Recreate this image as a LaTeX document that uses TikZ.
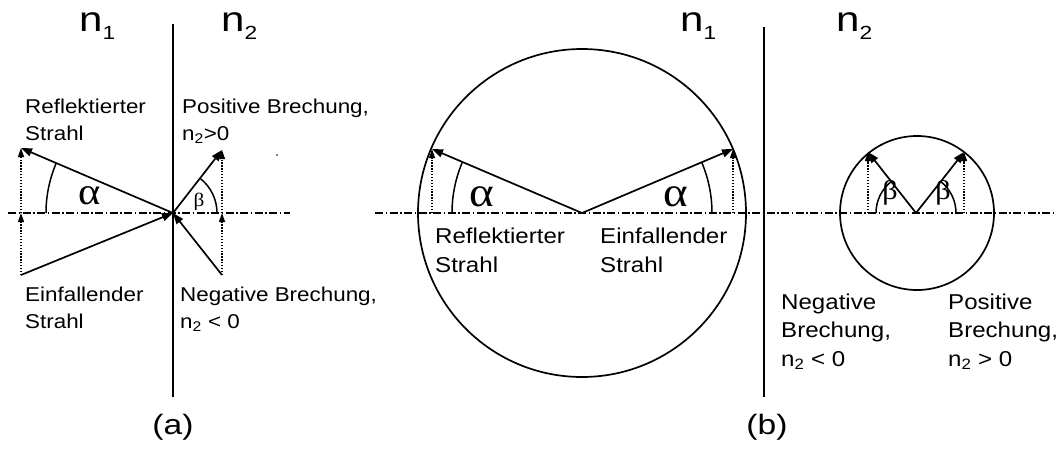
\documentclass[tikz,border=0pt]{standalone}
\usepackage{fontspec}
\setmainfont{Liberation Sans}[FakeStretch=1.12]
\newfontfamily\bigfont{Liberation Sans}[FakeStretch=1.2]
\newfontfamily\grk{Liberation Serif}[FakeStretch=1.12]
\usetikzlibrary{arrows.meta}
\begin{document}
\begin{tikzpicture}[x=1pt,y=-1pt,
  ray/.style={line width=1.7pt,-{Triangle[length=11pt,width=8pt]}},
  plain/.style={line width=1.7pt},
  proj/.style={line width=1.3pt,dash pattern=on 1.3pt off 1.6pt,-{Triangle[length=9pt,width=6pt]}},
  axis/.style={line width=1.2pt,dash pattern=on 8pt off 2.5pt on 1.5pt off 2.5pt},
  arcline/.style={line width=1.5pt},
  txta/.style={inner sep=0pt,anchor=base west,align=left,font=\fontsize{20}{27}\selectfont},
  txtb/.style={inner sep=0pt,anchor=base west,align=left,font=\fontsize{21.5}{28.5}\selectfont},
  big/.style={inner sep=0pt,anchor=base west,font=\bigfont\fontsize{35}{35}\selectfont},
  captxt/.style={inner sep=0pt,anchor=center,font=\bigfont\fontsize{28}{28}\selectfont},
  greek/.style={inner sep=0pt,anchor=center}
]
\useasboundingbox (0,0) rectangle (1059,452);
% ---------------- panel (a)
\coordinate (Oa) at (173,213);
\coordinate (Ra) at (21,148);
\coordinate (Ia) at (21,275);
\coordinate (Pa) at (222,150);
\coordinate (Na) at (222,275);
\coordinate (La) at (21,213);
\coordinate (Ma) at (222,213);
\coordinate (AxLa) at (8,213);
\coordinate (AxRa) at (290,213);
\coordinate (VaT) at (173,24);
\coordinate (VaB) at (173,397);
\draw[axis] (AxLa) -- (AxRa);
\draw[plain] (VaT) -- (VaB);
\draw[proj] (Ia) -- (La);
\draw[proj] (La) -- (Ra);
\draw[proj] (Na) -- (Ma);
\draw[proj] (Ma) -- (Pa);
\draw[ray] (Oa) -- (Ra);
\draw[ray] (Ia) -- (Oa);
\draw[ray] (Oa) -- (Pa);
\draw[ray] (Na) -- (Oa);
\draw[arcline] ([shift={(180:127)}]Oa) arc[start angle=180,end angle=203.3,radius=127];
\draw[arcline] ([shift={(0:44)}]Oa) arc[start angle=0,end angle=-52.1,radius=44];
\node[greek,font=\grk\fontsize{38}{38}\selectfont] (alA) at (90,196) {α};
\node[greek,font=\grk\fontsize{19}{19}\selectfont] (beA) at (199,202) {β};
\fill (277,155) circle[radius=0.8];
\node[big] (n1a) at (79,32) {n\raisebox{-8pt}{\fontsize{19}{19}\selectfont 1}};
\node[big] (n2a) at (221,32) {n\raisebox{-8pt}{\fontsize{19}{19}\selectfont 2}};
\node[txta] (reflA) at (25,140) {Reflektierter\\Strahl};
\node[txta] (posA) at (182,140) {Positive Brechung,\\n\textsubscript{2}>0};
\node[txta] (einA) at (25,328) {Einfallender\\Strahl};
\node[txta] (negA) at (180,328) {Negative Brechung,\\n\textsubscript{2} < 0};
\node[captxt] (capA) at (173,427) {(a)};
% ---------------- panel (b)
\coordinate (Ob) at (582,213);
\coordinate (RLb) at (432,149);
\coordinate (RRb) at (733,149);
\coordinate (FLb) at (432,213);
\coordinate (FRb) at (733,213);
\coordinate (Cs) at (917,213);
\coordinate (Vs) at (916,213);
\coordinate (SLb) at (868,152);
\coordinate (SRb) at (964,152);
\coordinate (GLb) at (868,213);
\coordinate (GRb) at (964,213);
\coordinate (AxLb) at (375,213);
\coordinate (AxRb) at (1055,213);
\coordinate (VbT) at (764,27);
\coordinate (VbB) at (764,397);
\draw[axis] (AxLb) -- (AxRb);
\draw[plain] (VbT) -- (VbB);
\draw[plain] (Ob) circle[radius=164];
\draw[plain] (Cs) circle[radius=77];
\draw[proj] (FLb) -- (RLb);
\draw[proj] (FRb) -- (RRb);
\draw[proj] (GLb) -- (SLb);
\draw[proj] (GRb) -- (SRb);
\draw[ray] (Ob) -- (RLb);
\draw[ray] (Ob) -- (RRb);
\draw[ray] (Vs) -- (SLb);
\draw[ray] (Vs) -- (SRb);
\draw[arcline] ([shift={(180:130)}]Ob) arc[start angle=180,end angle=203.1,radius=130];
\draw[arcline] ([shift={(0:130)}]Ob) arc[start angle=0,end angle=-22.97,radius=130];
\draw[arcline] ([shift={(180:40)}]Vs) arc[start angle=180,end angle=231.8,radius=40];
\draw[arcline] ([shift={(0:40)}]Vs) arc[start angle=0,end angle=-51.8,radius=40];
\node[greek,font=\grk\fontsize{42}{42}\selectfont] (alBL) at (482,197) {α};
\node[greek,font=\grk\fontsize{42}{42}\selectfont] (alBR) at (676,197) {α};
\node[greek,font=\grk\fontsize{27}{27}\selectfont] (beBL) at (890,193) {β};
\node[greek,font=\grk\fontsize{27}{27}\selectfont] (beBR) at (943,193) {β};
\node[big] (n1b) at (680,32) {n\raisebox{-8pt}{\fontsize{19}{19}\selectfont 1}};
\node[big] (n2b) at (836,32) {n\raisebox{-8pt}{\fontsize{19}{19}\selectfont 2}};
\node[txtb] (reflB) at (435,272) {Reflektierter\\Strahl};
\node[txtb] (einB) at (600,272) {Einfallender\\Strahl};
\node[txtb] (negB) at (781,366) {Negative\\Brechung,\\n\textsubscript{2} < 0};
\node[txtb] (posB) at (948,366) {Positive\\Brechung,\\n\textsubscript{2} > 0};
\node[captxt] (capB) at (767,427) {(b)};
\end{tikzpicture}
\end{document}
